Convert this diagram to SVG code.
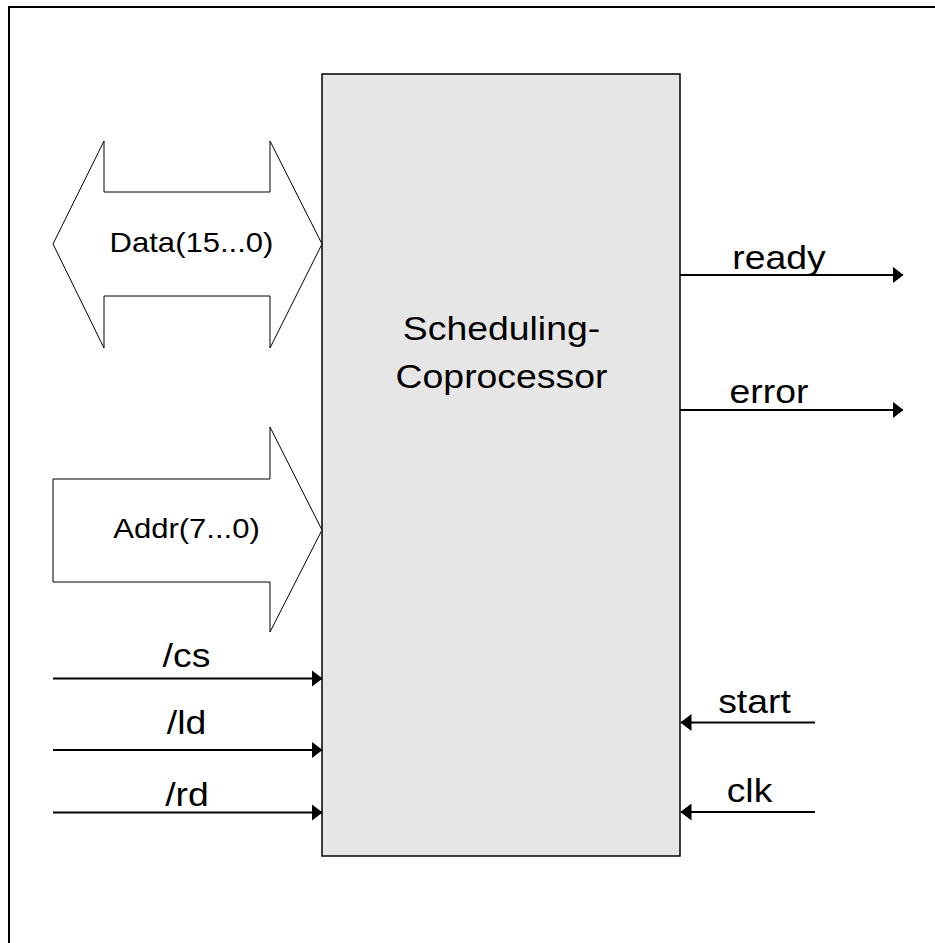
<svg xmlns="http://www.w3.org/2000/svg" width="935" height="943" viewBox="0 0 935 943">
<style>
  .t { font-family: "Liberation Sans", Arial, sans-serif; fill: #000; text-anchor: middle; }
  .big { font-size: 32.5px; }
  .bus { font-size: 27px; }
  .sig { stroke: #000; stroke-width: 2; fill: none; marker-end: url(#ah); }
  .busshape { fill: #fff; stroke: #000; stroke-width: 1; }
</style>
<defs>
  <marker id="ah" markerUnits="userSpaceOnUse" viewBox="0 0 11 17" markerWidth="11" markerHeight="17" refX="10.5" refY="8.5" orient="auto">
    <path d="M0,0 L11,8.5 L0,17 z" fill="#000"/>
  </marker>
</defs>
<rect x="0" y="0" width="935" height="943" fill="#fff"/>
<path d="M9,943 V7 H935" fill="none" stroke="#000" stroke-width="2"/>

<g id="coprocessor">
  <rect x="322" y="74" width="358" height="782" fill="#e6e6e6" stroke="#000" stroke-width="1.5"/>
  <text class="t big" transform="translate(501.5,340) scale(1.15,1)">Scheduling-</text>
  <text class="t big" transform="translate(501.5,388) scale(1.15,1)">Coprocessor</text>
</g>

<g id="data-bus">
  <polygon class="busshape" points="53,244 104,141 104,192 270,192 270,141 322,244 270,348 270,296 104,296 104,348"/>
  <text class="t bus" transform="translate(191.5,251.7) scale(1.15,1)">Data(15...0)</text>
</g>

<g id="addr-bus">
  <polygon class="busshape" points="53,479 270,479 270,427 322,530 270,632 270,582 53,582"/>
  <text class="t bus" transform="translate(186.5,538) scale(1.15,1)">Addr(7...0)</text>
</g>

<g id="connectors">
  <line class="sig" x1="53" y1="678.5" x2="322" y2="678.5"/>
  <line class="sig" x1="53" y1="750" x2="322" y2="750"/>
  <line class="sig" x1="53" y1="812.5" x2="322" y2="812.5"/>
  <line class="sig" x1="680" y1="275" x2="903" y2="275"/>
  <line class="sig" x1="680" y1="410" x2="903" y2="410"/>
  <line class="sig" x1="815" y1="722.5" x2="681" y2="722.5"/>
  <line class="sig" x1="815" y1="812" x2="681" y2="812"/>
</g>

<g id="label-cs"><text class="t big" transform="translate(186.5,666.5) scale(1.15,1)">/cs</text></g>
<g id="label-ld"><text class="t big" transform="translate(186.5,734) scale(1.15,1)">/ld</text></g>
<g id="label-rd"><text class="t big" transform="translate(187,805.5) scale(1.15,1)">/rd</text></g>
<g id="label-ready"><text class="t big" transform="translate(779,268.5) scale(1.15,1)">ready</text></g>
<g id="label-error"><text class="t big" transform="translate(769,402.5) scale(1.15,1)">error</text></g>
<g id="label-start"><text class="t big" transform="translate(754.5,713) scale(1.15,1)">start</text></g>
<g id="label-clk"><text class="t big" transform="translate(749.5,801.5) scale(1.15,1)">clk</text></g>
</svg>
